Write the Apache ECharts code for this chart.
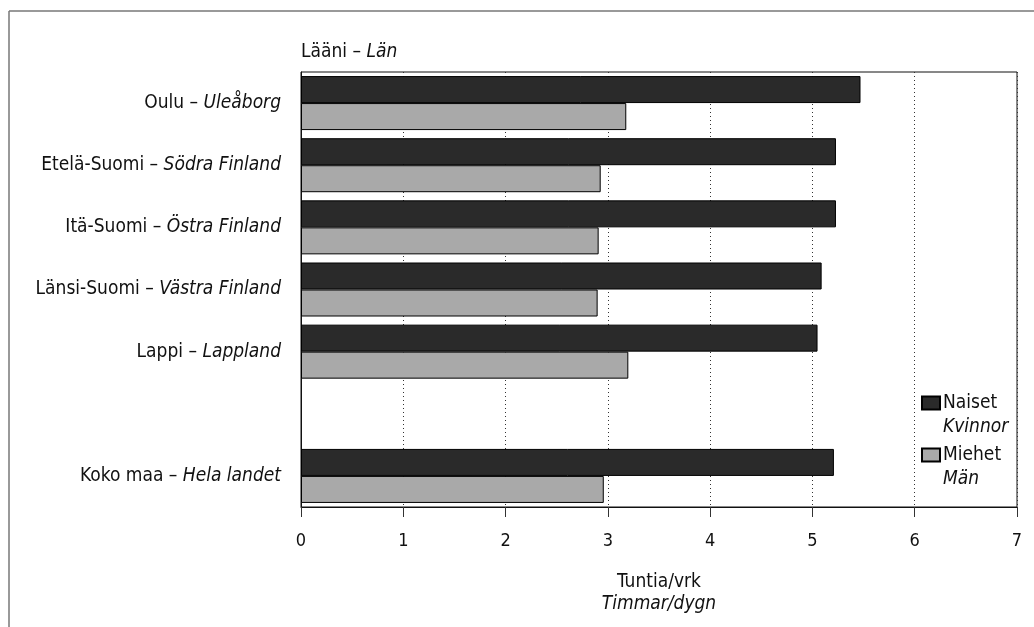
<!DOCTYPE html>
<html>
<head>
<meta charset="utf-8">
<script src="https://cdn.jsdelivr.net/npm/echarts@6/dist/echarts.min.js"></script>
<style>
html,body{margin:0;padding:0;background:#fff;}
#chart{width:1034px;height:627px;}
</style>
</head>
<body>
<div id="chart"></div>
<script>
var FONT = "'DejaVu Sans Condensed','Liberation Sans Narrow','Roboto Condensed','Liberation Sans',sans-serif";

var categoriesFi = ['Oulu', 'Etelä-Suomi', 'Itä-Suomi', 'Länsi-Suomi', 'Lappi', '', 'Koko maa'];
var categoriesSv = ['Uleåborg', 'Södra Finland', 'Östra Finland', 'Västra Finland', 'Lappland', '', 'Hela landet'];
var naiset = [5.47, 5.23, 5.23, 5.09, 5.05, null, 5.21];
var miehet = [3.18, 2.93, 2.91, 2.90, 3.20, null, 2.96];
var xTicks = [0, 1, 2, 3, 4, 5, 6, 7];

var chart = echarts.init(document.getElementById('chart'));
var option = {
  backgroundColor: '#ffffff',
  animation: false,
  textStyle: { fontFamily: FONT, color: '#111' },
  title: {
    text: 'Lääni – {i|Län}',
    left: 301,
    top: 43,
    padding: 0,
    textStyle: {
      fontFamily: FONT, fontSize: 19, fontWeight: 'normal', color: '#111',
      rich: { i: { fontFamily: FONT, fontSize: 19, fontStyle: 'italic', color: '#111' } }
    }
  },
  grid: {
    left: 301, right: 17, top: 72, bottom: 120,
    show: true, borderColor: '#111', borderWidth: 1, backgroundColor: '#fff'
  },
  legend: {
    orient: 'vertical',
    left: 921,
    top: 367,
    padding: 0,
    itemWidth: 18,
    itemHeight: 13,
    itemGap: -20,
    icon: 'rect',
    data: ['Naiset', 'Miehet'],
    formatter: function (name) {
      return name === 'Naiset' ? 'Naiset\n{i|Kvinnor}' : 'Miehet\n{i|Män}';
    },
    textStyle: {
      fontFamily: FONT, fontSize: 19, color: '#111', lineHeight: 24,
      padding: [24, 0, 0, -2],
      rich: { i: { fontFamily: FONT, fontSize: 19, fontStyle: 'italic', color: '#111', lineHeight: 24 } }
    }
  },
  xAxis: {
    type: 'value',
    min: 0, max: 7, interval: 1,
    name: 'Tuntia/vrk\n{i|Timmar/dygn}',
    nameLocation: 'middle',
    nameGap: 64,
    nameTextStyle: {
      fontFamily: FONT, fontSize: 19, color: '#111', lineHeight: 22,
      rich: { i: { fontFamily: FONT, fontSize: 19, fontStyle: 'italic', color: '#111', lineHeight: 22 } }
    },
    axisLine: { show: true, lineStyle: { color: '#111', width: 1 } },
    axisTick: { show: true, length: 10, lineStyle: { color: '#333' } },
    axisLabel: {
      margin: 25, fontFamily: FONT, fontSize: 18, color: '#111',
      formatter: function (v) { return xTicks.indexOf(v) >= 0 ? String(v) : ''; }
    },
    splitLine: { show: true, lineStyle: { color: '#333', type: [1, 3], width: 1 } }
  },
  yAxis: {
    type: 'category',
    inverse: true,
    data: categoriesFi,
    axisLine: { show: true, lineStyle: { color: '#111' } },
    axisTick: { show: false },
    axisLabel: {
      margin: 20, fontFamily: FONT, fontSize: 19, color: '#111',
      formatter: function (v, i) {
        if (!categoriesFi[i]) return '';
        return categoriesFi[i] + ' – {i|' + categoriesSv[i] + '}';
      },
      rich: { i: { fontFamily: FONT, fontSize: 19, fontStyle: 'italic', color: '#111' } }
    },
    splitLine: { show: false }
  },
  series: [
    {
      name: 'Naiset', type: 'bar', data: naiset,
      barWidth: 27, barGap: '0%',
      itemStyle: { color: '#2a2a2a', borderColor: '#000', borderWidth: 1 }
    },
    {
      name: 'Miehet', type: 'bar', data: miehet,
      barWidth: 27, barGap: '0%',
      itemStyle: { color: '#a9a9a9', borderColor: '#000', borderWidth: 1 }
    }
  ],
  graphic: [
    { type: 'line', shape: { x1: 9, y1: 11, x2: 1034, y2: 11 }, style: { stroke: '#777', lineWidth: 1.5 }, silent: true },
    { type: 'line', shape: { x1: 9, y1: 11, x2: 9, y2: 627 }, style: { stroke: '#777', lineWidth: 1.5 }, silent: true }
  ]
};
chart.setOption(option);
</script>
</body>
</html>
